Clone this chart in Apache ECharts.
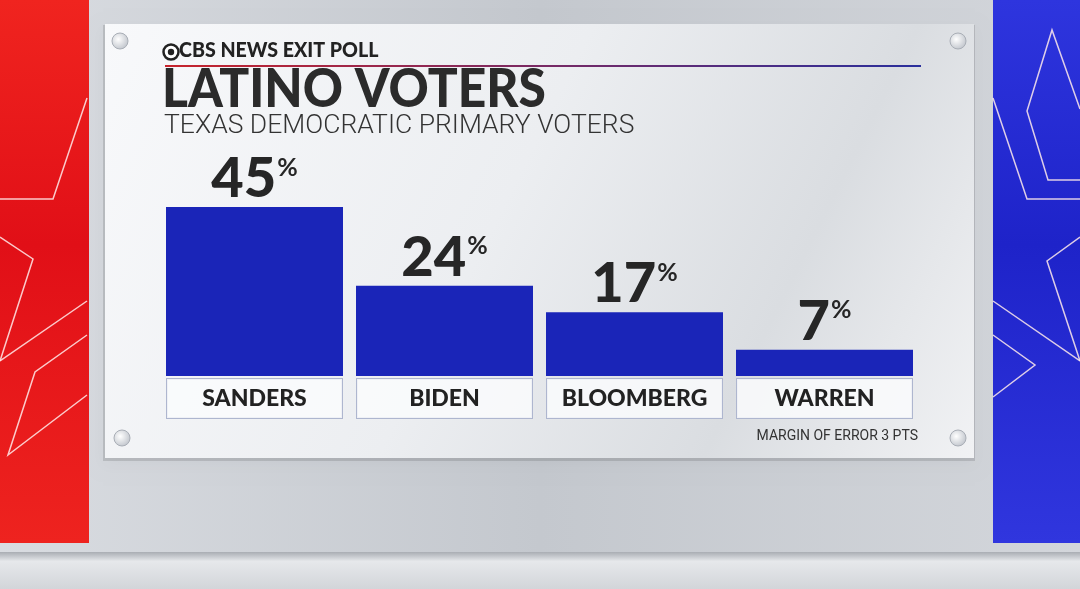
<!DOCTYPE html>
<html>
<head>
<meta charset="utf-8">
<script src="https://cdn.jsdelivr.net/npm/echarts@6/dist/echarts.min.js"></script>
<style>
  html, body { margin: 0; padding: 0; background: #c9cdd3; }
  #main { width: 1080px; height: 589px; }
</style>
</head>
<body>
<div id="main"></div>
<script>
// data
var candidates = ['SANDERS', 'BIDEN', 'BLOOMBERG', 'WARREN'];
var shares = [45, 24, 17, 7];

var titleText = 'LATINO VOTERS';
var subText = 'TEXAS DEMOCRATIC PRIMARY VOTERS';
var brandText = 'CBS NEWS EXIT POLL';
var noteText = 'MARGIN OF ERROR 3 PTS';

var myChart = echarts.init(document.getElementById('main'));

// white star outlines on the side panels
function starLine(points) {
	return {
		type: 'polyline',
		silent: true,
		shape: { points: points },
		style: { stroke: 'rgba(255,235,235,0.85)', lineWidth: 1.5, fill: null }
	};
}

function screw(x, y) {
	return {
		type: 'circle',
		silent: true,
		shape: { cx: x, cy: y, r: 8 },
		style: {
			fill: new echarts.graphic.RadialGradient(0.4, 0.4, 0.7, [
				{ offset: 0, color: '#ffffff' },
				{ offset: 1, color: '#b9bec6' }
			]),
			stroke: '#a9aeb6', lineWidth: 1
		}
	};
}

var graphics = [
	// backdrop
	{ type: 'rect', silent: true, z: -10, shape: { x: 0, y: 0, width: 1080, height: 589 },
	  style: { fill: new echarts.graphic.LinearGradient(0, 0, 1, 0, [
		{ offset: 0, color: '#d9dce1' }, { offset: 0.5, color: '#c4c8ce' }, { offset: 1, color: '#d3d6db' }]) } },
	// bottom ledge
	{ type: 'rect', silent: true, z: -9, shape: { x: 0, y: 552, width: 1080, height: 37 },
	  style: { fill: new echarts.graphic.LinearGradient(0, 0, 0, 1, [
		{ offset: 0, color: '#a9adb3' }, { offset: 0.25, color: '#e6e8eb' }, { offset: 1, color: '#d2d5d9' }]) } },
	// red panel
	{ type: 'rect', silent: true, z: -8, shape: { x: 0, y: 0, width: 89, height: 543 },
	  style: { fill: new echarts.graphic.LinearGradient(0, 0, 0, 1, [
		{ offset: 0, color: '#f0241f' }, { offset: 0.45, color: '#e10f17' }, { offset: 1, color: '#ee231f' }]) } },
	// blue panel
	{ type: 'rect', silent: true, z: -8, shape: { x: 993, y: 0, width: 87, height: 543 },
	  style: { fill: new echarts.graphic.LinearGradient(0, 0, 0, 1, [
		{ offset: 0, color: '#2e35de' }, { offset: 0.45, color: '#1e23c9' }, { offset: 1, color: '#3036de' }]) } },
	starLine([[0, 199], [53, 199], [87, 98]]),
	starLine([[0, 237], [33, 259], [0, 361]]),
	starLine([[0, 361], [87, 301]]),
	starLine([[87, 335], [35, 372], [8, 455], [87, 395]]),
	starLine([[993, 98], [1027, 199], [1080, 199]]),
	starLine([[1080, 109], [1052, 30], [1027, 111], [1048, 180], [1080, 180]]),
	starLine([[1080, 237], [1047, 261], [1080, 361]]),
	starLine([[993, 301], [1080, 361]]),
	starLine([[993, 335], [1035, 365], [993, 397]]),
	// board shadow + board
	{ type: 'rect', silent: true, z: -7, shape: { x: 103, y: 25, width: 872, height: 436 },
	  style: { fill: 'rgba(0,0,0,0.12)', shadowBlur: 14, shadowColor: 'rgba(0,0,0,0.25)', shadowOffsetY: 4 } },
	{ type: 'rect', silent: true, z: -6, shape: { x: 105, y: 24, width: 869, height: 434 },
	  style: { fill: new echarts.graphic.LinearGradient(0, 0, 1, 1, [
		{ offset: 0, color: '#f8f9fb' }, { offset: 0.45, color: '#eceef1' },
		{ offset: 0.75, color: '#dadde1' }, { offset: 1, color: '#f1f2f4' }]) } },
	screw(120, 41), screw(958, 41), screw(122, 438), screw(958, 438),
	// brand eye
	{ type: 'circle', silent: true, shape: { cx: 171, cy: 52, r: 7.5 },
	  style: { fill: '#ffffff', stroke: '#222', lineWidth: 2.5 } },
	{ type: 'circle', silent: true, shape: { cx: 171, cy: 52, r: 3.2 }, style: { fill: '#222' } },
	{ type: 'text', silent: true, x: 179, y: 41, scaleX: 0.98,
	  style: { text: brandText, font: '900 20px Lato', fill: '#222' } },
	// red-to-blue rule
	{ type: 'rect', silent: true, shape: { x: 165, y: 65, width: 756, height: 2 },
	  style: { fill: new echarts.graphic.LinearGradient(0, 0, 1, 0, [
		{ offset: 0, color: '#c7242c' }, { offset: 1, color: '#2a2f9c' }]) } },
	{ type: 'text', silent: true, x: 162, y: 63, scaleX: 0.92,
	  style: { text: titleText, font: '900 54px Lato', fill: '#2b2b2b' } },
	{ type: 'text', silent: true, x: 164, y: 114, scaleX: 1.06,
	  style: { text: subText, font: '300 25px Roboto', fill: '#333333' } },
	{ type: 'text', silent: true, right: 162, top: 429,
	  style: { text: noteText, font: '14px Roboto', fill: '#333333' } }
];

myChart.setOption({
	animation: false,
	graphic: graphics,
	grid: { left: 159.5, right: 160.5, top: 207, bottom: 213 },
	xAxis: {
		type: 'category',
		data: candidates,
		axisLine: { show: false },
		axisTick: { show: false },
		axisLabel: {
			margin: 3,
			width: 175,
			height: 39,
			lineHeight: 39,
			align: 'center',
			backgroundColor: 'rgba(250,251,253,0.85)',
			borderColor: '#aeb6cf',
			borderWidth: 1,
			fontFamily: 'Lato',
			fontWeight: 900,
			fontSize: 23,
			color: '#222222'
		}
	},
	yAxis: {
		type: 'value',
		min: 0,
		max: 45,
		show: false,
		splitLine: { show: false }
	},
	series: [{
		type: 'bar',
		data: shares,
		barWidth: 177,
		itemStyle: { color: '#1a25b8' },
		label: {
			show: true,
			position: 'top',
			distance: 4,
			formatter: function (p) { return '{n|' + p.value + '}{p|%}'; },
			rich: {
				n: { fontFamily: 'Lato', fontWeight: 900, fontSize: 56, lineHeight: 48, color: '#262626' },
				p: { fontFamily: 'Lato', fontWeight: 700, fontSize: 25, lineHeight: 28, verticalAlign: 'top', color: '#262626', padding: [0, 0, 0, 1] }
			}
		}
	}]
});

window.onresize = function () {
	myChart.resize();
};
</script>
</body>
</html>
